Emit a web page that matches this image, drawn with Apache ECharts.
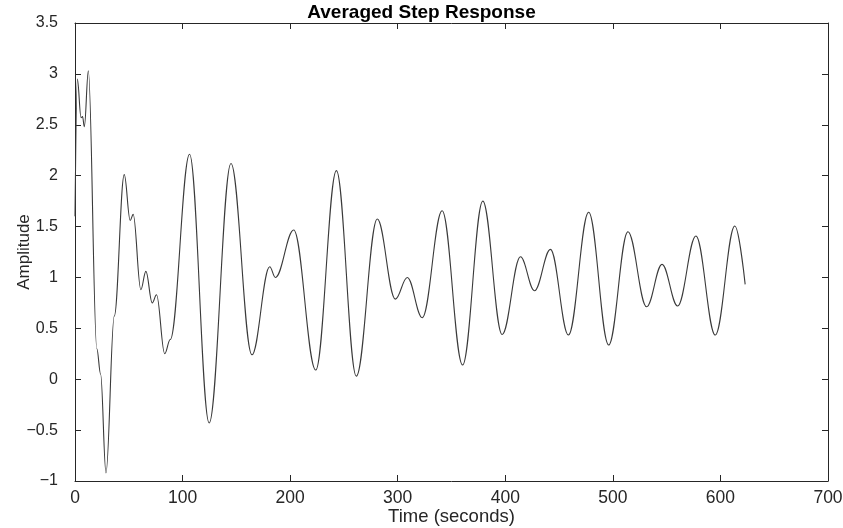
<!DOCTYPE html>
<html>
<head>
<meta charset="utf-8">
<script src="https://cdn.jsdelivr.net/npm/echarts@6/dist/echarts.min.js"></script>
<style>
html,body{margin:0;padding:0;background:#ffffff;}
#chart{width:843px;height:528px;}
</style>
</head>
<body>
<div id="chart"></div>
<script>
// Time (seconds) of the curve's turning points / shoulders
const timeSec = [
  0, 2.2, 5.6, 7.0, 8.7, 12.4, 20.3, 23.8, 28.8, 36.5, 45.8,
  51.3, 54.1, 61.2, 65.9, 71.8, 75.8, 83.4, 88.5, 106.5, 124.7,
  145, 164.5, 181, 186.3, 203.3, 223.8, 243, 261.5, 281, 297.8,
  308.9, 322.8, 341.3, 360.3, 379.1, 397.1, 414.1, 427.1, 442, 458.7,
  477.5, 496.1, 514, 531.4, 545.7, 560.2, 577.2, 595.2, 613.4, 623
];
// Amplitude at those times
const amplitude = [
  1.6, 2.95, 2.57, 2.58, 2.48, 3.03, 0.3, 0.05, -0.92, 0.62, 2.01,
  1.56, 1.62, 0.88, 1.06, 0.75, 0.83, 0.25, 0.39, 2.21, -0.43,
  2.12, 0.24, 1.105, 1.0, 1.466, 0.09, 2.05, 0.03, 1.574, 0.787,
  1.0, 0.604, 1.655, 0.14, 1.75, 0.44, 1.203, 0.87, 1.276, 0.434,
  1.64, 0.336, 1.449, 0.712, 1.128, 0.719, 1.407, 0.434, 1.505, 0.932
];
const xTicks = [0, 100, 200, 300, 400, 500, 600, 700];
const yTicks = [-1, -0.5, 0, 0.5, 1, 1.5, 2, 2.5, 3, 3.5];

const axisColor = '#262626';
const fontFamily = '"Liberation Sans", Arial, Helvetica, sans-serif';
const fmt = v => String(v).replace('-', '\u2212');

const chart = echarts.init(document.getElementById('chart'), null, {renderer: 'canvas'});

const xBase = {
  type: 'value',
  min: xTicks[0],
  max: xTicks[xTicks.length - 1],
  interval: xTicks[1] - xTicks[0],
  splitLine: {show: false},
  axisLine: {show: true, onZero: false, lineStyle: {color: axisColor, width: 1}},
  axisTick: {show: true, inside: true, length: 6, lineStyle: {color: axisColor, width: 1}}
};
const yBase = {
  type: 'value',
  min: yTicks[0],
  max: yTicks[yTicks.length - 1],
  interval: yTicks[1] - yTicks[0],
  splitLine: {show: false},
  axisLine: {show: true, onZero: false, lineStyle: {color: axisColor, width: 1}},
  axisTick: {show: true, inside: true, length: 6, lineStyle: {color: axisColor, width: 1}}
};

chart.setOption({
  animation: false,
  backgroundColor: '#ffffff',
  title: {
    text: 'Averaged Step Response',
    left: 'center',
    top: -2,
    textStyle: {fontFamily: fontFamily, fontSize: 19, fontWeight: 'bold', color: '#000000'}
  },
  grid: {left: 75, right: 15, top: 23, bottom: 47, containLabel: false, outerBoundsMode: 'none'},
  xAxis: [
    Object.assign({}, xBase, {
      position: 'bottom',
      name: 'Time (seconds)',
      nameLocation: 'middle',
      nameGap: 26,
      nameMoveOverlap: false,
      nameTextStyle: {fontFamily: fontFamily, fontSize: 18.5, color: axisColor},
      axisLabel: {show: true, margin: 8, fontFamily: fontFamily, fontSize: 17.5, color: axisColor, formatter: fmt}
    }),
    Object.assign({}, xBase, {position: 'top', axisLabel: {show: false}})
  ],
  yAxis: [
    Object.assign({}, yBase, {
      position: 'left',
      name: 'Amplitude',
      nameLocation: 'middle',
      nameGap: 42,
      nameMoveOverlap: false,
      nameTextStyle: {fontFamily: fontFamily, fontSize: 17, color: axisColor},
      axisLabel: {show: true, margin: 17, fontFamily: fontFamily, fontSize: 16, color: axisColor, formatter: fmt}
    }),
    Object.assign({}, yBase, {position: 'right', axisLabel: {show: false}})
  ],
  series: [{
    type: 'line',
    xAxisIndex: 0,
    yAxisIndex: 0,
    data: timeSec.map((t, i) => [t, amplitude[i]]),
    smooth: 0.38,
    smoothMonotone: 'x',
    showSymbol: false,
    symbol: 'none',
    lineStyle: {color: '#3a3a3a', width: 1.1}
  }]
});
</script>
</body>
</html>
